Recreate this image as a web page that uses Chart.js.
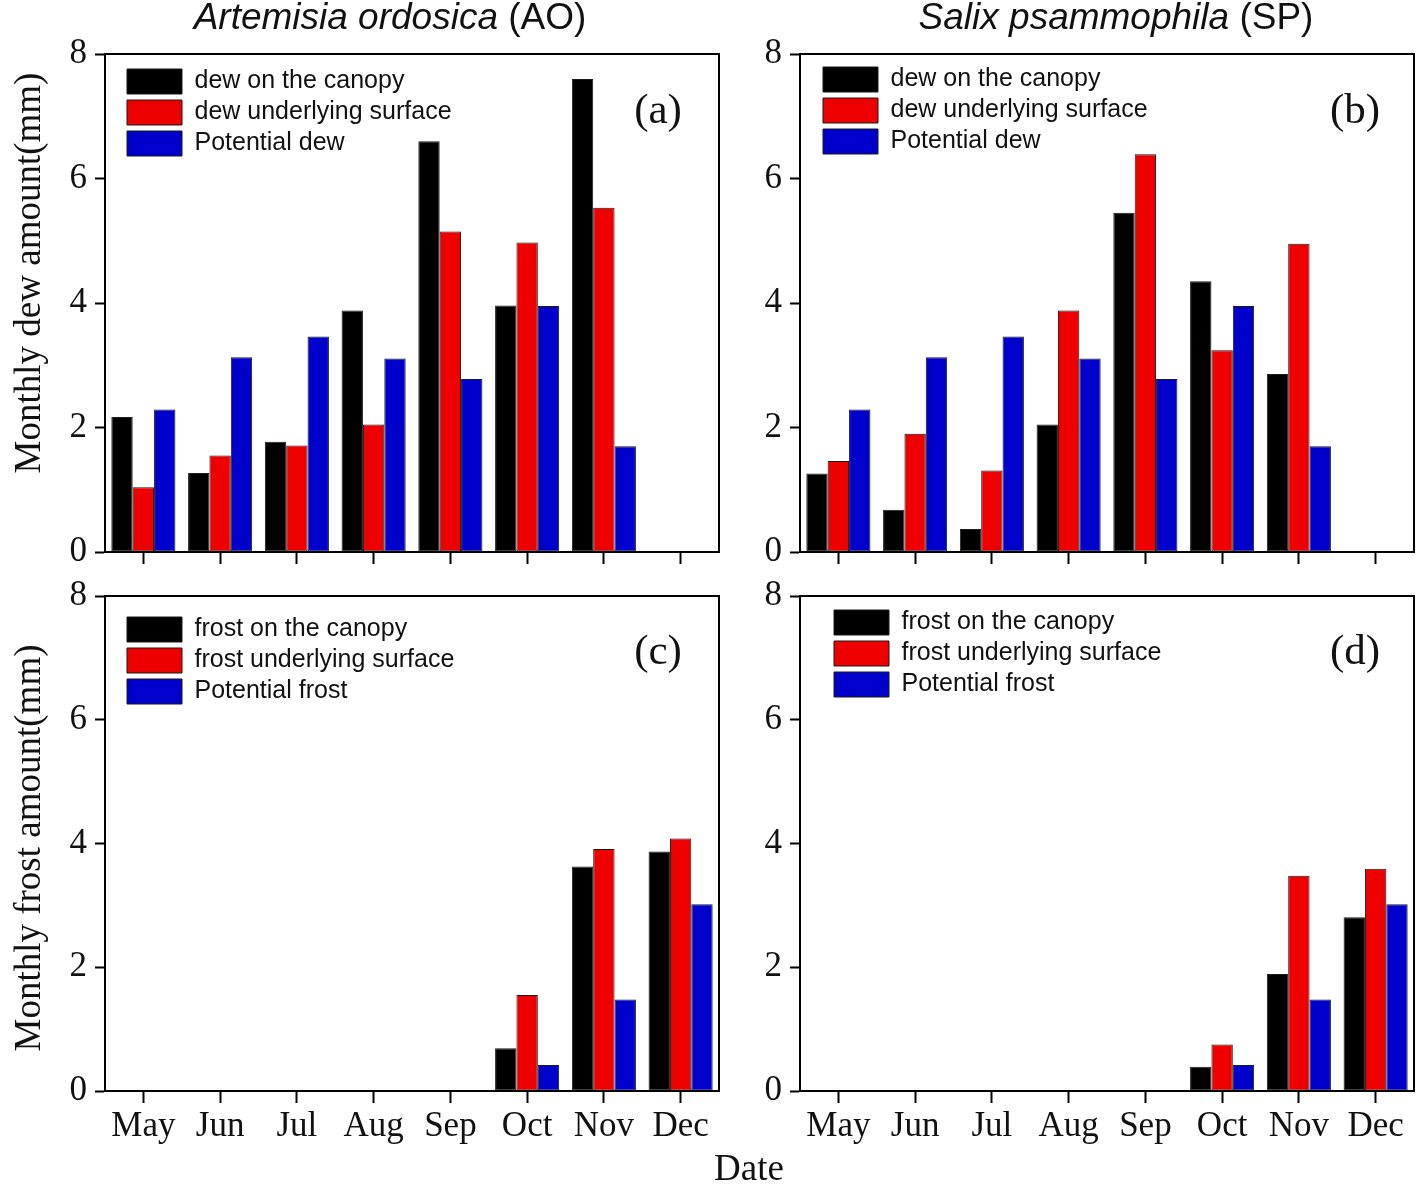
<!DOCTYPE html>
<html><head><meta charset="utf-8">
<script src="https://cdn.jsdelivr.net/npm/chart.js@4.4.0/dist/chart.umd.min.js"></script>
<style>
html,body{margin:0;padding:0;background:#fff;}
#wrap{position:relative;width:1418px;height:1191px;overflow:hidden;background:#fff;}
canvas{position:absolute;}
</style></head><body>
<div id="wrap">
<canvas id="cA" width="740" height="590" style="left:0px;top:0px"></canvas>
<canvas id="cB" width="718" height="590" style="left:700px;top:0px"></canvas>
<canvas id="cC" width="800" height="631" style="left:0px;top:560px"></canvas>
<canvas id="cD" width="718" height="631" style="left:700px;top:560px"></canvas>
</div>
<script>
// ---------- data ----------
const months = ['May','Jun','Jul','Aug','Sep','Oct','Nov','Dec'];
const yTickValues = [0, 2, 4, 6, 8];
const dewLabels = ['dew on the canopy', 'dew underlying surface', 'Potential dew'];
const frostLabels = ['frost on the canopy', 'frost underlying surface', 'Potential frost'];

const aoDewCanopy   = [2.17, 1.27, 1.77, 3.88, 6.60, 3.96, 7.60, 0];
const aoDewSurface  = [1.04, 1.55, 1.71, 2.05, 5.15, 4.97, 5.53, 0];
const potentialDew  = [2.29, 3.13, 3.46, 3.11, 2.78, 3.95, 1.70, 0];

const spDewCanopy   = [1.26, 0.68, 0.37, 2.05, 5.45, 4.35, 2.86, 0];
const spDewSurface  = [1.46, 1.90, 1.31, 3.88, 6.39, 3.24, 4.95, 0];

const aoFrostCanopy  = [0, 0, 0, 0, 0, 0.69, 3.63, 3.87];
const aoFrostSurface = [0, 0, 0, 0, 0, 1.55, 3.91, 4.08];
const potentialFrost = [0, 0, 0, 0, 0, 0.42, 1.48, 3.02];

const spFrostCanopy  = [0, 0, 0, 0, 0, 0.39, 1.89, 2.81];
const spFrostSurface = [0, 0, 0, 0, 0, 0.75, 3.48, 3.59];

// ---------- styles ----------
const seriesColors = ['#000000', '#EE0000', '#0000CC'];
const SERIF = "'Liberation Serif', 'Times New Roman', serif";
const SANS = "'Liberation Sans', Arial, sans-serif";

const framePlugin = {
  id: 'frame',
  afterDraw(chart) {
    const a = chart.chartArea, ctx = chart.ctx;
    ctx.save();
    ctx.strokeStyle = '#000';
    ctx.lineWidth = 2;
    ctx.strokeRect(a.left, a.top, a.right - a.left, a.bottom - a.top);
    ctx.restore();
  }
};

function textPlugin(items) {
  return {
    id: 'texts',
    afterDraw(chart) {
      const ctx = chart.ctx;
      items.forEach(it => {
        ctx.save();
        ctx.translate(it.x, it.y);
        if (it.rot) ctx.rotate(it.rot);
        ctx.fillStyle = '#111';
        ctx.textBaseline = 'middle';
        ctx.textAlign = 'left';
        let total = 0;
        const widths = it.parts.map(p => { ctx.font = p.font; const w = ctx.measureText(p.t).width; total += w; return w; });
        let x = -total / 2;
        it.parts.forEach((p, i) => { ctx.font = p.font; ctx.fillText(p.t, x, 0); x += widths[i]; });
        ctx.restore();
      });
    }
  };
}

// places the legend block inside the plot area at an offset from its top-left corner
function legendShift(dx, dy) {
  return {
    id: 'legendShift',
    afterLayout(chart) {
      const l = chart.legend, a = chart.chartArea;
      if (l && a) {
        const w = l.width, h = l.height;
        l.left = a.left + dx; l.top = a.top + dy;
        l.right = l.left + w; l.bottom = l.top + h;
      }
    }
  };
}

function makeChart(id, p) {
  const datasets = p.series.map((vals, i) => ({
    label: p.names[i],
    data: vals,
    backgroundColor: seriesColors[i],
    borderColor: '#1a1a1a',
    borderWidth: 1,
    borderSkipped: false,
    categoryPercentage: 0.835,
    barPercentage: 1.0
  }));
  return new Chart(document.getElementById(id), {
    type: 'bar',
    data: { labels: months, datasets },
    options: {
      responsive: false,
      animation: false,
      devicePixelRatio: 1,
      layout: { padding: { top: p.padTop, right: p.padRight, left: 0, bottom: 0 } },
      plugins: {
        tooltip: { enabled: false },
        title: { display: false },
        legend: {
          display: true,
          position: 'chartArea',
          align: 'start',
          labels: {
            boxWidth: 55,
            boxHeight: 25,
            padding: 6,
            color: '#111',
            font: { family: SANS, size: 25 }
          }
        }
      },
      scales: {
        x: {
          type: 'category',
          offset: true,
          afterFit(s) { s.height = p.xHeight; },
          grid: { display: true, drawOnChartArea: false, drawTicks: true, tickLength: 12, tickWidth: 2, tickColor: '#000', offset: false },
          border: { display: true, color: '#000', width: 2 },
          ticks: {
            autoSkip: false, maxRotation: 0, minRotation: 0, padding: 3,
            color: '#111',
            font: { family: SERIF, size: 35 },
            callback(v, i) { return p.showX ? months[i] : ''; }
          }
        },
        y: {
          min: 0, max: 8,
          afterFit(s) { s.width = p.yWidth; },
          afterBuildTicks(s) { s.ticks = yTickValues.map(v => ({ value: v })); },
          grid: { display: true, drawOnChartArea: false, drawTicks: true, tickLength: 10, tickWidth: 2, tickColor: '#000' },
          border: { display: true, color: '#000', width: 2 },
          ticks: {
            padding: 8,
            color: '#111',
            font: { family: SERIF, size: 35 },
            callback(v) { return String(v); }
          }
        }
      }
    },
    plugins: [framePlugin, textPlugin(p.texts), legendShift(p.dx, p.dy)]
  });
}

const titleFontI = "italic 37px " + SANS;
const titleFontN = "37px " + SANS;
const letterFont = "43px " + SERIF;
const axisTitleFont = "37px " + SERIF;

makeChart('cA', {
  series: [aoDewCanopy, aoDewSurface, potentialDew], names: dewLabels,
  padTop: 54, padRight: 21, xHeight: 38, yWidth: 105, showX: false, dx: 16, dy: 9,
  texts: [
    { x: 390, y: 19, parts: [{ t: 'Artemisia ordosica', font: titleFontI }, { t: ' (AO)', font: titleFontN }] },
    { x: 658, y: 112, parts: [{ t: '(a)', font: letterFont }] },
    { x: 30, y: 273, rot: -Math.PI / 2, parts: [{ t: 'Monthly dew amount(mm)', font: axisTitleFont }] }
  ]
});

makeChart('cB', {
  series: [spDewCanopy, spDewSurface, potentialDew], names: dewLabels,
  padTop: 54, padRight: 4, xHeight: 38, yWidth: 100, showX: false, dx: 17, dy: 7,
  texts: [
    { x: 416, y: 19, parts: [{ t: 'Salix psammophila', font: titleFontI }, { t: ' (SP)', font: titleFontN }] },
    { x: 655, y: 112, parts: [{ t: '(b)', font: letterFont }] }
  ]
});

makeChart('cC', {
  series: [aoFrostCanopy, aoFrostSurface, potentialFrost], names: frostLabels,
  padTop: 36, padRight: 81, xHeight: 100, yWidth: 105, showX: true, dx: 16, dy: 15,
  texts: [
    { x: 658, y: 93, parts: [{ t: '(c)', font: letterFont }] },
    { x: 30, y: 288, rot: -Math.PI / 2, parts: [{ t: 'Monthly frost amount(mm)', font: axisTitleFont }] },
    { x: 749, y: 610, parts: [{ t: 'Date', font: axisTitleFont }] }
  ]
});

makeChart('cD', {
  series: [spFrostCanopy, spFrostSurface, potentialFrost], names: frostLabels,
  padTop: 36, padRight: 4, xHeight: 100, yWidth: 100, showX: true, dx: 28, dy: 8,
  texts: [
    { x: 655, y: 93, parts: [{ t: '(d)', font: letterFont }] }
  ]
});
</script>
</body></html>
